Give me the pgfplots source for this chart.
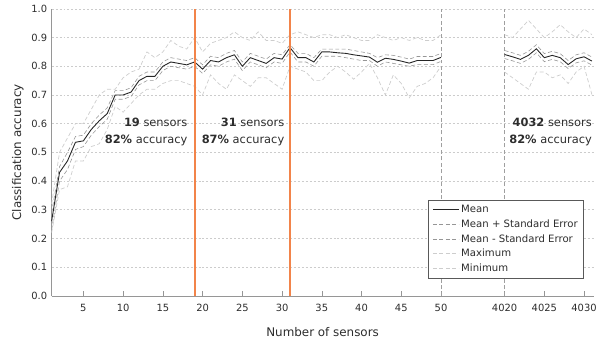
\documentclass[border=0pt]{standalone}
\usepackage{fontspec}
\setmainfont{DejaVu Sans}
\usepackage{pgfplots}
\pgfplotsset{compat=1.18}
\usepackage{pgfplotstable}
\definecolor{orng}{RGB}{242,132,74}
\definecolor{axgray}{RGB}{150,150,150}
\definecolor{segray}{RGB}{150,150,150}
\definecolor{mmgray}{RGB}{205,205,205}
\definecolor{txt}{RGB}{45,45,45}

\pgfplotstableread{
x mean sep sem max min
1 0.26 0.29 0.23 0.32 0.22
2 0.43 0.45 0.40 0.50 0.37
3 0.47 0.50 0.44 0.55 0.38
4 0.535 0.555 0.51 0.60 0.47
5 0.54 0.56 0.52 0.60 0.47
6 0.58 0.60 0.56 0.65 0.52
7 0.61 0.63 0.59 0.70 0.53
8 0.635 0.655 0.615 0.72 0.58
9 0.70 0.715 0.685 0.72 0.66
10 0.70 0.715 0.685 0.76 0.64
11 0.71 0.725 0.695 0.78 0.67
12 0.75 0.765 0.735 0.79 0.70
13 0.765 0.78 0.75 0.85 0.72
14 0.765 0.78 0.75 0.83 0.72
15 0.80 0.815 0.785 0.85 0.74
16 0.815 0.83 0.80 0.89 0.75
17 0.81 0.825 0.795 0.87 0.75
18 0.805 0.82 0.79 0.86 0.74
19 0.815 0.83 0.80 0.90 0.73
20 0.79 0.805 0.775 0.85 0.70
21 0.82 0.835 0.805 0.88 0.77
22 0.815 0.83 0.80 0.89 0.74
23 0.83 0.845 0.815 0.90 0.72
24 0.84 0.855 0.825 0.92 0.77
25 0.80 0.815 0.785 0.90 0.75
26 0.83 0.845 0.815 0.89 0.73
27 0.82 0.835 0.805 0.92 0.76
28 0.81 0.825 0.795 0.89 0.76
29 0.83 0.845 0.815 0.89 0.74
30 0.825 0.84 0.81 0.88 0.72
31 0.865 0.875 0.85 0.91 0.80
32 0.83 0.845 0.815 0.92 0.79
33 0.83 0.845 0.815 0.91 0.78
34 0.815 0.83 0.80 0.90 0.75
35 0.85 0.86 0.835 0.91 0.75
36 0.85 0.86 0.835 0.91 0.78
37 0.847 0.86 0.835 0.90 0.80
38 0.845 0.86 0.83 0.91 0.78
39 0.84 0.855 0.825 0.90 0.755
40 0.836 0.85 0.82 0.89 0.78
41 0.832 0.845 0.82 0.89 0.81
42 0.814 0.83 0.80 0.91 0.76
43 0.828 0.84 0.815 0.90 0.70
44 0.824 0.838 0.81 0.89 0.77
45 0.818 0.832 0.805 0.90 0.74
46 0.811 0.825 0.80 0.89 0.69
47 0.82 0.834 0.806 0.90 0.73
48 0.82 0.834 0.806 0.89 0.74
49 0.82 0.834 0.806 0.89 0.76
50 0.831 0.845 0.817 0.91 0.80
}\segA

\pgfplotstableread{
x mean sep sem max min
4020 0.841 0.855 0.827 0.91 0.78
4021 0.833 0.847 0.819 0.90 0.76
4022 0.824 0.838 0.81 0.93 0.74
4023 0.838 0.852 0.824 0.96 0.72
4024 0.861 0.875 0.847 0.93 0.78
4025 0.83 0.844 0.816 0.90 0.78
4026 0.838 0.852 0.824 0.92 0.76
4027 0.83 0.844 0.816 0.945 0.77
4028 0.806 0.82 0.792 0.92 0.74
4029 0.826 0.84 0.812 0.90 0.78
4030 0.833 0.847 0.819 0.93 0.80
4031 0.818 0.832 0.804 0.91 0.70
}\segB

\begin{document}
\begin{tikzpicture}
\begin{axis}[
  scale only axis, width=546pt, height=289pt,
  xmin=1, xmax=69.2, ymin=0, ymax=1,
  axis x line*=bottom, axis y line*=left,
  axis line style={axgray,-},
  ytick={0,0.1,...,1.01},
  yticklabel style={/pgf/number format/fixed,/pgf/number format/fixed zerofill,/pgf/number format/precision=1, xshift=-1pt},
  /pgf/number format/assume math mode=true,
  ytick style={draw=none},
  xtick={5,10,15,20,25,30,35,40,45,50,63,68},
  xticklabels={5,10,15,20,25,30,35,40,45,50,4025,4030},
  extra x ticks={58}, extra x tick labels={4020},
  extra x tick style={grid=none},
  tick align=inside, major tick length=5pt,
  xtick style={axgray},
  tick label style={font=\fontsize{10}{12}\selectfont, text=txt},
  xticklabel style={yshift=-5pt},
  ymajorgrids,
  grid style={gray!40, dash pattern=on 2pt off 2pt, line width=0.5pt},
  xlabel={Number of sensors}, ylabel={Classification accuracy},
  label style={font=\fontsize{12}{14}\selectfont, text=txt},
  xlabel style={at={(axis description cs:0.5,-0.128)}, anchor=center},
  ylabel style={at={(axis description cs:-0.0623,0.5)}, anchor=center},
  legend style={at={(0.982,0.062)}, anchor=south east, draw=gray!70!black,
    font=\fontsize{10.2}{12}\selectfont, text=txt, row sep=1.5pt,
    inner xsep=4pt, inner ysep=3pt},
  legend cell align=left,
  legend image code/.code={\draw[#1] (0pt,0pt) -- (26pt,0pt);},
  clip=false,
]
% bounding box like the reference
\path (axis description cs:-0.0952,-0.1696) rectangle (axis description cs:1.0037,1.031);
% separators
\addplot[forget plot, gray!75, dash pattern=on 4pt off 2.5pt, line width=0.7pt] coordinates {(50,0) (50,1)};
\addplot[forget plot, gray!75, dash pattern=on 4pt off 2.5pt, line width=0.7pt] coordinates {(58,0) (58,1)};
% min / max
\addplot[forget plot, mmgray, dash pattern=on 4pt off 2.5pt, line width=0.7pt] table[x=x, y=max] {\segA};
\addplot[forget plot, mmgray, dash pattern=on 4pt off 2.5pt, line width=0.7pt] table[x=x, y=min] {\segA};
\addplot[forget plot, mmgray, dash pattern=on 4pt off 2.5pt, line width=0.7pt] table[x expr=\thisrow{x}-3962, y=max] {\segB};
\addplot[forget plot, mmgray, dash pattern=on 4pt off 2.5pt, line width=0.7pt] table[x expr=\thisrow{x}-3962, y=min] {\segB};
% SE
\addplot[forget plot, segray, dash pattern=on 4pt off 2.5pt, line width=0.6pt] table[x=x, y=sep] {\segA};
\addplot[forget plot, segray, dash pattern=on 4pt off 2.5pt, line width=0.6pt] table[x=x, y=sem] {\segA};
\addplot[forget plot, segray, dash pattern=on 4pt off 2.5pt, line width=0.6pt] table[x expr=\thisrow{x}-3962, y=sep] {\segB};
\addplot[forget plot, segray, dash pattern=on 4pt off 2.5pt, line width=0.6pt] table[x expr=\thisrow{x}-3962, y=sem] {\segB};
% mean
\addplot[forget plot, black!85, line width=0.9pt] table[x=x, y=mean] {\segA};
\addplot[forget plot, black!85, line width=0.9pt] table[x expr=\thisrow{x}-3962, y=mean] {\segB};
% orange markers
\draw[orng, line width=1.8pt] (axis cs:19,0) -- (axis cs:19,1);
\draw[orng, line width=1.8pt] (axis cs:31,0) -- (axis cs:31,1);
% legend
\addlegendimage{black!85, line width=0.9pt}
\addlegendentry{Mean}
\addlegendimage{segray, dash pattern=on 4pt off 2.5pt, line width=0.6pt}
\addlegendentry{Mean + Standard Error}
\addlegendimage{segray, dash pattern=on 4pt off 2.5pt, line width=0.6pt}
\addlegendentry{Mean - Standard Error}
\addlegendimage{mmgray, dash pattern=on 4pt off 2.5pt, line width=0.7pt}
\addlegendentry{Maximum}
\addlegendimage{mmgray, dash pattern=on 4pt off 2.5pt, line width=0.7pt}
\addlegendentry{Minimum}
% annotations
\node[anchor=east, align=right, inner sep=0pt, text=txt, font=\fontsize{11.5}{18}\selectfont] at (axis cs:18.1,0.571) {\textbf{19} sensors\\\textbf{82\%} accuracy};
\node[anchor=east, align=right, inner sep=0pt, text=txt, font=\fontsize{11.5}{18}\selectfont] at (axis cs:30.3,0.571) {\textbf{31} sensors\\\textbf{87\%} accuracy};
\node[anchor=east, align=right, inner sep=0pt, text=txt, font=\fontsize{11.5}{18}\selectfont] at (axis cs:69.0,0.571) {\textbf{4032} sensors\\\textbf{82\%} accuracy};
\end{axis}
\end{tikzpicture}
\end{document}
